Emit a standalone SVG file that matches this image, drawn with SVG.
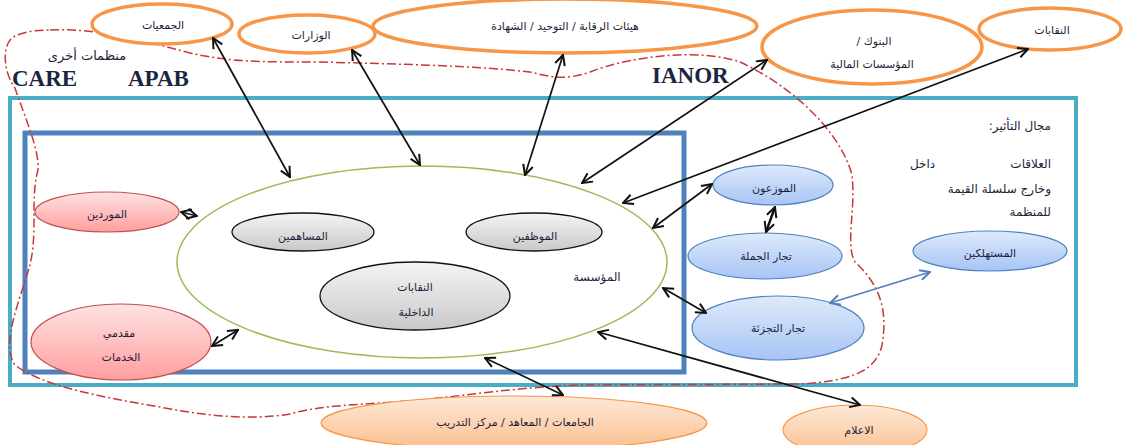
<svg xmlns="http://www.w3.org/2000/svg" width="1128" height="445" viewBox="0 0 1128 445">
<defs>
<linearGradient id="gGray" x1="0" y1="0" x2="0" y2="1"><stop offset="0" stop-color="#f4f4f4"/><stop offset="1" stop-color="#c9c9c9"/></linearGradient>
<linearGradient id="gPink" x1="0" y1="0" x2="0" y2="1"><stop offset="0" stop-color="#ffe3e3"/><stop offset="1" stop-color="#ff9e9e"/></linearGradient>
<linearGradient id="gBlue" x1="0" y1="0" x2="0" y2="1"><stop offset="0" stop-color="#dfeafb"/><stop offset="1" stop-color="#a6c4f5"/></linearGradient>
<linearGradient id="gPeach" x1="0" y1="0" x2="0" y2="1"><stop offset="0" stop-color="#fde9d9"/><stop offset="1" stop-color="#fbbf8d"/></linearGradient>
<marker id="ah" viewBox="0 0 12 12" refX="11" refY="6" markerWidth="12" markerHeight="12" markerUnits="userSpaceOnUse" orient="auto-start-reverse"><path d="M1,1 L11,6 L1,11" fill="none" stroke="#111" stroke-width="2"/></marker>
<marker id="ahb" viewBox="0 0 12 12" refX="11" refY="6" markerWidth="12" markerHeight="12" markerUnits="userSpaceOnUse" orient="auto-start-reverse"><path d="M1,1 L11,6 L1,11" fill="none" stroke="#4f81bd" stroke-width="2"/></marker>
</defs>
<style>
.t{font-family:"DejaVu Sans",sans-serif;font-size:11px;fill:#1e1e3a;text-anchor:middle;direction:rtl}
.lat{font-family:"Liberation Serif",serif;font-size:23px;font-weight:bold;fill:#1c2540}
.top{fill:#fff;stroke:#f79646;stroke-width:3.5}
.bot{fill:url(#gPeach);stroke:#f79646;stroke-width:1.2}
.gray{fill:url(#gGray);stroke:#111;stroke-width:1.3}
.pink{fill:url(#gPink);stroke:#c0504d;stroke-width:1.2}
.blue{fill:url(#gBlue);stroke:#4f81bd;stroke-width:1.2}
.c{fill:none;stroke:#111;stroke-width:1.7;marker-start:url(#ah);marker-end:url(#ah)}
</style>
<rect width="1128" height="445" fill="#fff"/>
<g id="frames">
<rect x="10" y="98" width="1066" height="287" fill="none" stroke="#4bacc6" stroke-width="4"/>
<rect x="25" y="133" width="659" height="239" fill="none" stroke="#4f81bd" stroke-width="5"/>
</g>
<path id="boundary" d="M50,30 C100,28 140,40 190,53 C230,62 260,62 320,62 C400,64 480,66 530,72 C555,78 566,80 590,72 C630,56 700,48 740,62 C790,85 840,130 852,175 C856,210 845,245 855,262 C880,285 888,310 882,345 C876,372 850,381 800,384 L580,385 C520,387 470,395 420,400 C360,405 320,405 290,414 C250,421 200,415 160,407 C100,397 40,385 15,365 C0,345 20,300 30,265 C38,230 30,200 38,170 C40,150 22,110 15,88 C2,70 2,42 15,36 C25,31 40,30 50,30 Z" fill="none" stroke="#c8373a" stroke-width="1.5" stroke-dasharray="9 3 2 3"/>
<g id="labels">
<text class="t" x="87" y="60" style="font-size:13px">منظمات أخرى</text>
<text class="lat" x="12" y="86">CARE</text>
<text class="lat" x="128" y="86">APAB</text>
<text class="lat" x="652" y="83">IANOR</text>
<text class="t" x="1051" y="130" style="text-anchor:start;font-size:12px">مجال التأثير:</text>
<text class="t" x="1051" y="168" style="text-anchor:start;font-size:12px">العلاقات</text>
<text class="t" x="910" y="168" style="text-anchor:end;font-size:12px">داخل</text>
<text class="t" x="1051" y="193" style="text-anchor:start;font-size:12px">وخارج سلسلة القيمة</text>
<text class="t" x="1051" y="216" style="text-anchor:start;font-size:12px">للمنظمة</text>
</g>
<g id="n-jamiyat"><ellipse class="top" cx="162" cy="24" rx="70" ry="20"/><text class="t" x="163" y="29">الجمعيات</text></g>
<g id="n-wizarat"><ellipse class="top" cx="307" cy="34" rx="68" ry="19"/><text class="t" x="311" y="39">الوزارات</text></g>
<g id="n-hayat"><ellipse class="top" cx="565" cy="26" rx="192" ry="27"/><text class="t" x="565" y="30">هيئات الرقابة / التوحيد / الشهادة</text></g>
<g id="n-banks"><ellipse class="top" cx="872" cy="47" rx="110" ry="37"/><text class="t" x="874" y="45">البنوك /</text><text class="t" x="872" y="68">المؤسسات المالية</text></g>
<g id="n-unions"><ellipse class="top" cx="1050" cy="29" rx="71" ry="21"/><text class="t" x="1052" y="34">النقابات</text></g>
<g id="n-org"><ellipse cx="422" cy="262" rx="245" ry="96" fill="#fff" stroke="#9bbb59" stroke-width="1.5"/><text class="t" x="597" y="281" style="font-size:12px">المؤسسة</text></g>
<g id="n-share"><ellipse class="gray" cx="303" cy="232" rx="71" ry="19"/><text class="t" x="303" y="240">المساهمين</text></g>
<g id="n-emp"><ellipse class="gray" cx="534" cy="232" rx="68" ry="19"/><text class="t" x="535" y="240">الموظفين</text></g>
<g id="n-intunions"><ellipse class="gray" cx="415" cy="296" rx="95" ry="34"/><text class="t" x="415" y="291">النقابات</text><text class="t" x="416" y="316">الداخلية</text></g>
<g id="n-suppliers"><ellipse class="pink" cx="107" cy="212" rx="72" ry="20"/><text class="t" x="107" y="218">الموردين</text></g>
<g id="n-services"><ellipse class="pink" cx="121" cy="342" rx="90" ry="38"/><text class="t" x="119" y="337">مقدمي</text><text class="t" x="121" y="361">الخدمات</text></g>
<g id="n-distrib"><ellipse class="blue" cx="773" cy="185" rx="60" ry="20"/><text class="t" x="774" y="192">الموزعون</text></g>
<g id="n-wholesale"><ellipse class="blue" cx="765" cy="256" rx="77" ry="23"/><text class="t" x="766" y="260">تجار الجملة</text></g>
<g id="n-retail"><ellipse class="blue" cx="778" cy="328" rx="86" ry="32"/><text class="t" x="778" y="332">تجار التجزئة</text></g>
<g id="n-consumers"><ellipse class="blue" cx="990" cy="251" rx="77" ry="20"/><text class="t" x="990" y="257">المستهلكين</text></g>
<g id="n-univ"><ellipse class="bot" cx="514" cy="423" rx="193" ry="27"/><text class="t" x="515" y="426">الجامعات / المعاهد / مركز التدريب</text></g>
<g id="n-media"><ellipse class="bot" cx="855" cy="430" rx="72" ry="25"/><text class="t" x="859" y="434">الاعلام</text></g>
<g id="connectors">
<path class="c" d="M290,177 L213,38"/>
<path class="c" d="M420,165 L352,50"/>
<path class="c" d="M525,175 L563,55"/>
<path class="c" d="M582,183 L767,60"/>
<path class="c" d="M623,203 L1028,49"/>
<path class="c" d="M653,228 L712,184"/>
<path class="c" d="M663,288 L706,313"/>
<path class="c" d="M598,332 L860,405"/>
<path class="c" d="M485,358 L563,395"/>
<path class="c" d="M238,330 L212,346"/>
<path class="c" d="M197,216 L181,212"/>
<path class="c" d="M775,207 L766,232" style="stroke-width:2.4"/>
<path d="M830,303 L930,272" fill="none" stroke="#4f81bd" stroke-width="1.5" marker-start="url(#ahb)" marker-end="url(#ahb)"/>
</g>
</svg>
